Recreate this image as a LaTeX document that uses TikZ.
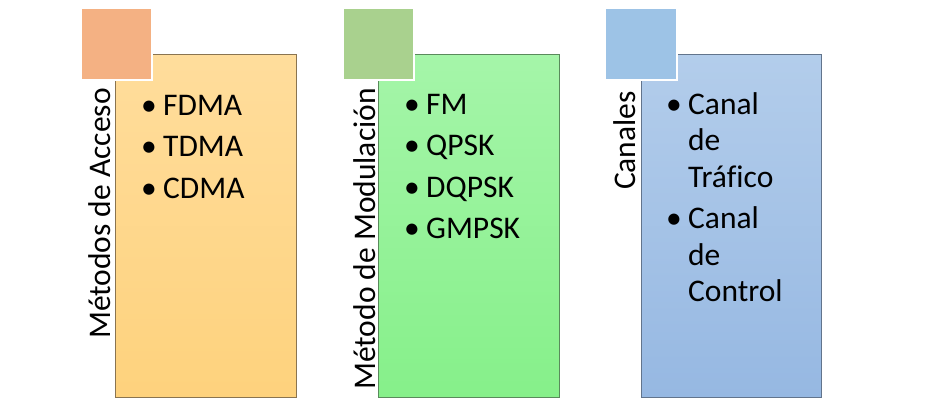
\documentclass[tikz,border=0pt]{standalone}
\usepackage{fontspec}
\setmainfont{Carlito}[Ligatures=NoCommon]
\usepackage{array}
\definecolor{sqO}{HTML}{F4B183}
\definecolor{sqG}{HTML}{A9D18E}
\definecolor{sqB}{HTML}{9DC3E6}
\definecolor{topO}{HTML}{FFDD9C}
\definecolor{botO}{HTML}{FED27D}
\definecolor{topG}{HTML}{A5F5A9}
\definecolor{botG}{HTML}{86F08A}
\definecolor{topB}{HTML}{B3CDEB}
\definecolor{botB}{HTML}{96B8E2}
\definecolor{edO}{HTML}{8A7450}
\definecolor{edG}{HTML}{5A8A5C}
\definecolor{edB}{HTML}{62748C}
\tikzset{
  mainbox/.style={line width=0.8pt},
  sqbox/.style={draw=white, line width=1.2pt},
  vlabel/.style={rotate=90, anchor=base east, inner sep=0pt, font=\fontsize{31.5}{36.5}\selectfont},
  itemlist/.style={anchor=base west, inner sep=0pt, font=\fontsize{31.5}{36.5}\selectfont, align=left},
}
\newcommand{\blist}[1]{\begin{tabular}[t]{@{}p{22pt}@{}l@{}}#1\end{tabular}}
\begin{document}
\begin{tikzpicture}[x=1pt,y=-1pt]
\useasboundingbox (0,0) rectangle (927,402);
% box 1
\shade[top color=topO, bottom color=botO] (115,54) rectangle (296,397);
\draw[mainbox, draw=edO] (115,54) rectangle (296,397);
\fill[sqO] (81,8) rectangle (152,80);
\draw[sqbox] (81,8) rectangle (152,80);
\node[vlabel] (l1) at (110,88) {Métodos de Acceso};
\node[itemlist] (i1) at (141,115) {\blist{• & FDMA\\[5pt] • & TDMA\\[5pt] • & CDMA}};
% box 2
\shade[top color=topG, bottom color=botG] (378,54) rectangle (559,397);
\draw[mainbox, draw=edG] (378,54) rectangle (559,397);
\fill[sqG] (343,8) rectangle (414,80);
\draw[sqbox] (343,8) rectangle (414,80);
\node[vlabel] (l2) at (375,88) {Método de Modulación};
\node[itemlist] (i2) at (404,114) {\blist{• & FM\\[5pt] • & QPSK\\[5pt] • & DQPSK\\[5pt] • & GMPSK}};
% box 3
\shade[top color=topB, bottom color=botB] (641,54) rectangle (821,397);
\draw[mainbox, draw=edB] (641,54) rectangle (821,397);
\fill[sqB] (605,8) rectangle (677,80);
\draw[sqbox] (605,8) rectangle (677,80);
\node[vlabel] (l3) at (635,91) {Canales};
\node[itemlist] (i3) at (666,114) {\blist{• & Canal\\ & de\\ & Tráfico\\[5pt] • & Canal\\ & de\\ & Control}};
\end{tikzpicture}
\end{document}
